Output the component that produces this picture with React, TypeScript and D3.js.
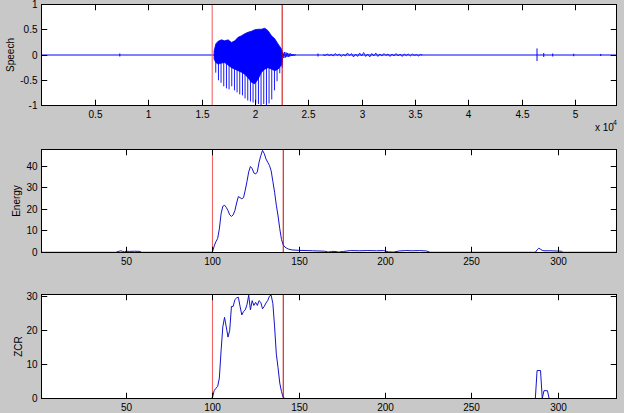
import React from "react";
import * as d3 from "d3";

// ---------- data ----------
const speechLength = 53900;
const frameLength = 160;
const markerFrames = [100, 141];

const speechTickValues = [5000, 10000, 15000, 20000, 25000, 30000, 35000, 40000, 45000, 50000];
const speechTickLabels = ["0.5", "1", "1.5", "2", "2.5", "3", "3.5", "4", "4.5", "5"];
const speechYTicks = [-1, -0.5, 0, 0.5, 1];
const speechYTickLabels = ["-1", "-0.5", "0", "0.5", "1"];

// envelope of the voiced burst (sample index, amplitude)
const speechEnvT = [16180, 16340, 16550, 16870, 17180, 17490, 17810, 18120, 18430, 18740, 19050, 19360, 19680, 19990, 20300, 20620, 20930, 21240, 21560, 21870, 22170, 22490, 22640];
const speechEnvUpper = [0.08, 0.22, 0.27, 0.3, 0.28, 0.3, 0.25, 0.28, 0.35, 0.38, 0.42, 0.45, 0.47, 0.5, 0.51, 0.51, 0.53, 0.48, 0.38, 0.32, 0.22, 0.12, 0.02];
const speechEnvLower = [-0.08, -0.15, -0.18, -0.16, -0.15, -0.2, -0.25, -0.28, -0.31, -0.34, -0.38, -0.45, -0.54, -0.57, -0.48, -0.34, -0.28, -0.25, -0.28, -0.31, -0.28, -0.2, -0.02];

// glottal pulses (sample index, negative peak)
const speechPulseT = [16335, 16588, 16832, 17085, 17338, 17582, 17835, 18088, 18332, 18585, 18838, 19081, 19334, 19588, 19831, 20084, 20337, 20581, 20834, 21087, 21331, 21584, 21837, 22081, 22334, 22558];
const speechPulseMin = [-0.35, -0.5, -0.55, -0.62, -0.66, -0.68, -0.62, -0.7, -0.74, -0.78, -0.8, -0.86, -0.9, -0.92, -0.94, -0.96, -0.97, -0.99, -0.97, -1.0, -0.96, -0.88, -0.7, -0.52, -0.36, -0.25];

// isolated clicks
const blipT = [7340, 25920, 46450, 47080, 47920, 49890, 52420];
const blipMin = [-0.02, -0.02, -0.11, -0.03, -0.02, -0.015, -0.01];
const blipMax = [0.02, 0.02, 0.12, 0.03, 0.02, 0.015, 0.01];

// decay after the burst
const tailStart = 22650;
const tailStep = 70;
const tailV = [0.05, -0.06, 0.06, -0.05, 0.05, -0.04, 0.04, -0.04, 0.03, -0.03, 0.03, -0.02, 0.02, -0.02, 0.015, -0.015, 0.01, 0];

// low level unvoiced noise
const noiseStart = 26400;
const noiseStep = 190;
const noiseV = [0.0, -0.01, 0.02, -0.01, 0.01, -0.02, 0.03, -0.01, 0.02, -0.03, 0.01, -0.02, 0.04, -0.01, 0.03, -0.04, 0.02, -0.03, 0.04, -0.02, 0.05, -0.03, 0.02, -0.04, 0.03, -0.02, 0.04, -0.03, 0.02, -0.02, 0.03, -0.01, 0.02, -0.03, 0.02, -0.02, 0.03, -0.02, 0.02, -0.03, 0.02, -0.01, 0.02, -0.02, 0.02, -0.01, 0.01, -0.02, 0.01, 0];

const frameCount = 334;
const frameTicks = [50, 100, 150, 200, 250, 300];

const energyFrames = [1, 44, 46, 47, 48, 49, 50, 52, 55, 58, 59, 99, 100, 101, 102, 103, 104, 105, 106, 107, 108, 109, 110, 111, 112, 113, 114, 115, 116, 117, 118, 119, 120, 121, 122, 123, 124, 125, 126, 127, 128, 129, 130, 131, 132, 133, 134, 135, 136, 137, 138, 139, 140, 141, 142, 143, 144, 146, 150, 158, 165, 167, 169, 171, 173, 176, 180, 185, 190, 195, 199, 202, 205, 208, 212, 216, 220, 224, 226, 287, 288, 289, 290, 291, 292, 295, 299, 302, 303, 334];
const energyValues = [0.1, 0.1, 0.6, 0.8, 0.5, 0.3, 0.6, 0.5, 0.6, 0.5, 0.1, 0.1, 0.2, 3.0, 5.0, 6.5, 11, 18, 21.5, 22, 21, 19.5, 17.5, 16.8, 17.5, 19.5, 23, 26, 25.5, 25, 25.5, 29, 33, 37.5, 40, 39, 37, 36.5, 37.5, 42, 45, 47.5, 46, 43.5, 42, 40.5, 38, 33, 28, 22, 17, 11, 6, 3.5, 2.5, 2.0, 1.6, 1.2, 1.0, 0.8, 0.6, 0.2, 0.5, 0.5, 0.2, 0.5, 0.9, 0.8, 0.9, 0.8, 0.9, 0.3, 0.2, 0.7, 0.9, 0.8, 0.9, 0.7, 0.1, 0.1, 1.2, 2.0, 1.5, 1.0, 0.8, 0.8, 0.7, 0.6, 0.1, 0.1];
const energyYTicks = [0, 10, 20, 30, 40];

const zcrFrames = [1, 99, 100, 101, 102, 103, 104, 105, 106, 107, 108, 109, 110, 111, 112, 113, 114, 115, 116, 117, 118, 119, 120, 121, 122, 123, 124, 125, 126, 127, 128, 129, 130, 131, 132, 133, 134, 135, 136, 137, 138, 139, 140, 141, 142, 287, 288, 290, 291, 292, 294, 295, 334];
const zcrValues = [0, 0, 0.2, 2.3, 3, 3.5, 6, 14, 21, 23.8, 21, 18, 20, 27, 27, 29, 29.5, 29.7, 27, 24.5, 25.5, 26, 27.5, 30.3, 26, 28.7, 27.3, 28.2, 27.3, 28.7, 28.2, 26.3, 27, 28, 28.7, 30, 30.3, 27.8, 21, 13, 9, 4.5, 2, 0.3, 0, 0, 8.2, 8.2, 0, 2.3, 2.3, 0, 0];
const zcrYTicks = [0, 10, 20, 30];

// ---------- layout ----------
const W = 624;
const H = 413;
const LEFT = 41.5;
const RIGHT = 616.5;
const FONT = "'Liberation Sans', Arial, Helvetica, sans-serif";
const BLUE = "#0000ff";
const DARKBLUE = "#1414c8";
const MARKER_COLORS = ["#ee5a5a", "#c80000"];
const TICK = 5.75;

type PanelProps = {
  id: string;
  top: number;
  bottom: number;
  x: d3.ScaleLinear<number, number>;
  y: d3.ScaleLinear<number, number>;
  xTicks: number[];
  xLabels: string[];
  yTicks: number[];
  yLabels: string[];
  ylabel: string;
  ylabelX: number;
  children?: React.ReactNode;
};

function Panel(p: PanelProps) {
  return (
    <g>
      <defs>
        <clipPath id={p.id}>
          <rect x={LEFT} y={p.top} width={RIGHT - LEFT} height={p.bottom - p.top} />
        </clipPath>
      </defs>
      <rect x={LEFT} y={p.top} width={RIGHT - LEFT} height={p.bottom - p.top} fill="#ffffff" />
      <g clipPath={`url(#${p.id})`}>{p.children}</g>
      {p.xTicks.map((t, i) => {
        const xx = Math.round(p.x(t)) + 0.5;
        return (
          <g key={"xt" + i}>
            <line x1={xx} x2={xx} y1={p.bottom} y2={p.bottom - TICK} stroke="#000" strokeWidth={1} />
            <line x1={xx} x2={xx} y1={p.top} y2={p.top + TICK} stroke="#000" strokeWidth={1} />
            <text x={xx} y={p.bottom + 12} fontSize={10} fontFamily={FONT} textAnchor="middle" fill="#000">
              {p.xLabels[i]}
            </text>
          </g>
        );
      })}
      {p.yTicks.map((t, i) => {
        const yy = Math.round(p.y(t) - 0.5) + 0.5;
        return (
          <g key={"yt" + i}>
            <line x1={LEFT} x2={LEFT + TICK} y1={yy} y2={yy} stroke="#000" strokeWidth={1} />
            <line x1={RIGHT} x2={RIGHT - TICK} y1={yy} y2={yy} stroke="#000" strokeWidth={1} />
            <text x={LEFT - 4} y={yy + 3.5} fontSize={10} fontFamily={FONT} textAnchor="end" fill="#000">
              {p.yLabels[i]}
            </text>
          </g>
        );
      })}
      <rect x={LEFT} y={p.top} width={RIGHT - LEFT} height={p.bottom - p.top} fill="none" stroke="#000" strokeWidth={1} />
      <text
        transform={`translate(${p.ylabelX},${(p.top + p.bottom) / 2}) rotate(-90)`}
        fontSize={10}
        fontFamily={FONT}
        textAnchor="middle"
        fill="#000"
      >
        {p.ylabel}
      </text>
    </g>
  );
}

export default function App() {
  const xs = d3.scaleLinear().domain([0, speechLength]).range([LEFT, RIGHT]);
  const ys = d3.scaleLinear().domain([-1, 1]).range([105.5, 4.5]);
  const xf = d3.scaleLinear().domain([1, frameCount]).range([LEFT, RIGHT]);
  const ye = d3.scaleLinear().domain([0, 47.9]).range([252.5, 149.5]);
  const yz = d3.scaleLinear().domain([0, 30.5]).range([398.5, 294.5]);

  const envArea = d3
    .area<number>()
    .x((_, i) => xs(speechEnvT[i]))
    .y0((_, i) => ys(speechEnvLower[i]))
    .y1((_, i) => ys(speechEnvUpper[i]));

  const tailLine = d3
    .line<number>()
    .x((_, i) => xs(tailStart + i * tailStep))
    .y((v) => ys(v));
  const noiseLine = d3
    .line<number>()
    .x((_, i) => xs(noiseStart + i * noiseStep))
    .y((v) => ys(v));

  const energyLine = d3
    .line<number>()
    .x((_, i) => xf(energyFrames[i]))
    .y((v) => ye(v));
  const zcrLine = d3
    .line<number>()
    .x((_, i) => xf(zcrFrames[i]))
    .y((v) => yz(v));

  const frameLabels = frameTicks.map((t) => String(t));

  return (
    <svg
      width={W}
      height={H}
      viewBox={`0 0 ${W} ${H}`}
      style={{ position: "absolute", left: 0, top: 0, display: "block", background: "#c8c8c8" }}
    >
      <rect x={0} y={0} width={W} height={H} fill="#c8c8c8" />

      <Panel
        id="clipSpeech"
        top={4.5}
        bottom={105.5}
        x={xs}
        y={ys}
        xTicks={speechTickValues}
        xLabels={speechTickLabels}
        yTicks={speechYTicks}
        yLabels={speechYTickLabels}
        ylabel="Speech"
        ylabelX={14}
      >
        <line x1={xs(0)} x2={xs(speechLength)} y1={ys(0)} y2={ys(0)} stroke={BLUE} strokeWidth={1} />
        <path d={envArea(speechEnvT) || ""} fill={BLUE} stroke={BLUE} strokeWidth={0.8} />
        {speechPulseT.map((t, i) => (
          <line key={"p" + i} x1={xs(t)} x2={xs(t)} y1={ys(0)} y2={ys(speechPulseMin[i])} stroke={BLUE} strokeWidth={0.9} />
        ))}
        {blipT.map((t, i) => (
          <line key={"b" + i} x1={xs(t)} x2={xs(t)} y1={ys(blipMin[i]) + 0.5} y2={ys(blipMax[i]) - 0.5} stroke={BLUE} strokeWidth={1} />
        ))}
        <path d={tailLine(tailV) || ""} fill="none" stroke={BLUE} strokeWidth={0.8} />
        <path d={noiseLine(noiseV) || ""} fill="none" stroke={BLUE} strokeWidth={0.8} />
        {markerFrames.map((f, i) => (
          <line key={"m" + i} x1={xs(f * frameLength)} x2={xs(f * frameLength)} y1={4.5} y2={105.5} stroke={MARKER_COLORS[i]} strokeWidth={1} />
        ))}
      </Panel>
      <text x={595} y={131} fontSize={10} fontFamily={FONT} fill="#000">x 10</text>
      <text x={613} y={125} fontSize={7} fontFamily={FONT} fill="#000">4</text>

      <Panel
        id="clipEnergy"
        top={149.5}
        bottom={252.5}
        x={xf}
        y={ye}
        xTicks={frameTicks}
        xLabels={frameLabels}
        yTicks={energyYTicks}
        yLabels={energyYTicks.map(String)}
        ylabel="Energy"
        ylabelX={20}
      >
        <path d={energyLine(energyValues) || ""} fill="none" stroke={DARKBLUE} strokeWidth={1} />
        {markerFrames.map((f, i) => (
          <line key={"m" + i} x1={xf(f)} x2={xf(f)} y1={149.5} y2={252.5} stroke={MARKER_COLORS[i]} strokeWidth={1} />
        ))}
      </Panel>

      <Panel
        id="clipZcr"
        top={294.5}
        bottom={398.5}
        x={xf}
        y={yz}
        xTicks={frameTicks}
        xLabels={frameLabels}
        yTicks={zcrYTicks}
        yLabels={zcrYTicks.map(String)}
        ylabel="ZCR"
        ylabelX={21.5}
      >
        <path d={zcrLine(zcrValues) || ""} fill="none" stroke={DARKBLUE} strokeWidth={1} />
        {markerFrames.map((f, i) => (
          <line key={"m" + i} x1={xf(f)} x2={xf(f)} y1={294.5} y2={398.5} stroke={MARKER_COLORS[i]} strokeWidth={1} />
        ))}
      </Panel>
    </svg>
  );
}
